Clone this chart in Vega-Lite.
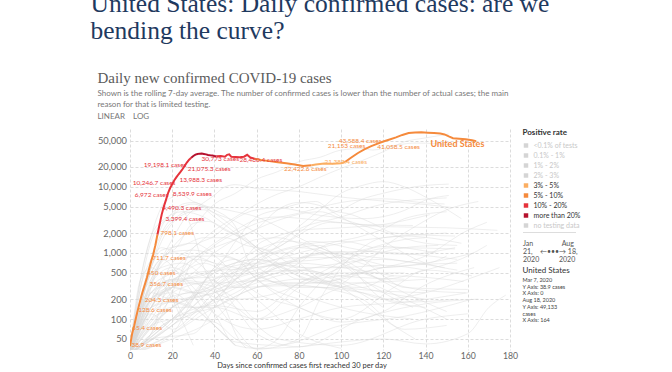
{
"$schema": "https://vega.github.io/schema/vega-lite/v6.json",
"background": "white",
"padding": {"left": 90, "top": -8, "right": 5, "bottom": 0},
"title": {"text": ["United States: Daily confirmed cases: are we", "bending the curve?"], "anchor": "start", "frame": "group", "dx": -39.5, "font": "Liberation Serif", "fontSize": 25.5, "fontWeight": "normal", "color": "#1f3a5f", "lineHeight": 27, "offset": 26},
"bounds": "flush",
"spacing": 12.5,
"resolve": {"scale": {"color": "independent"}, "legend": {"color": "independent"}},
"datasets": {
"rates": [{"rate": "<0.1% of tests"}, {"rate": "0.1% - 1%"}, {"rate": "1% - 2%"}, {"rate": "2% - 3%"}, {"rate": "3% - 5%"}, {"rate": "5% - 10%"}, {"rate": "10% - 20%"}, {"rate": "more than 20%"}, {"rate": "no testing data"}],
"us": [
{"day":0,"cases":38.9,"rate":"5% - 10%","seg":1},{"day":1,"cases":60,"rate":"5% - 10%","seg":1},{"day":2,"cases":80,"rate":"5% - 10%","seg":1},{"day":3,"cases":110,"rate":"5% - 10%","seg":1},{"day":4,"cases":150,"rate":"5% - 10%","seg":1},{"day":5,"cases":200,"rate":"5% - 10%","seg":1},{"day":6,"cases":260,"rate":"5% - 10%","seg":1},{"day":7,"cases":330,"rate":"5% - 10%","seg":1},{"day":8,"cases":420,"rate":"5% - 10%","seg":1},{"day":9,"cases":560,"rate":"5% - 10%","seg":1},{"day":10,"cases":740,"rate":"5% - 10%","seg":1},{"day":11,"cases":950,"rate":"5% - 10%","seg":1},{"day":12,"cases":1300,"rate":"5% - 10%","seg":1},{"day":13,"cases":1900,"rate":"5% - 10%","seg":1},
{"day":13,"cases":1900,"rate":"10% - 20%","seg":2},{"day":14,"cases":2700,"rate":"10% - 20%","seg":2},{"day":15,"cases":3800,"rate":"10% - 20%","seg":2},{"day":16,"cases":5000,"rate":"10% - 20%","seg":2},{"day":17,"cases":6300,"rate":"10% - 20%","seg":2},{"day":18,"cases":8000,"rate":"10% - 20%","seg":2},{"day":19,"cases":9600,"rate":"10% - 20%","seg":2},{"day":20,"cases":11000,"rate":"10% - 20%","seg":2},{"day":21,"cases":12600,"rate":"10% - 20%","seg":2},{"day":22,"cases":14000,"rate":"10% - 20%","seg":2},{"day":23,"cases":15500,"rate":"10% - 20%","seg":2},{"day":24,"cases":17000,"rate":"10% - 20%","seg":2},{"day":25,"cases":18800,"rate":"10% - 20%","seg":2},{"day":26,"cases":21000,"rate":"10% - 20%","seg":2},{"day":27,"cases":23500,"rate":"10% - 20%","seg":2},{"day":28,"cases":25800,"rate":"10% - 20%","seg":2},{"day":29,"cases":27500,"rate":"10% - 20%","seg":2},
{"day":29,"cases":27500,"rate":"more than 20%","seg":3},{"day":30,"cases":29300,"rate":"more than 20%","seg":3},{"day":31,"cases":30700,"rate":"more than 20%","seg":3},{"day":32,"cases":31400,"rate":"more than 20%","seg":3},{"day":33,"cases":31800,"rate":"more than 20%","seg":3},{"day":34,"cases":31900,"rate":"more than 20%","seg":3},{"day":35,"cases":31500,"rate":"more than 20%","seg":3},{"day":36,"cases":31000,"rate":"more than 20%","seg":3},{"day":37,"cases":30400,"rate":"more than 20%","seg":3},{"day":38,"cases":30000,"rate":"more than 20%","seg":3},{"day":39,"cases":29700,"rate":"more than 20%","seg":3},{"day":40,"cases":29300,"rate":"more than 20%","seg":3},{"day":41,"cases":29000,"rate":"more than 20%","seg":3},
{"day":41,"cases":29000,"rate":"10% - 20%","seg":4},{"day":43,"cases":29200,"rate":"10% - 20%","seg":4},{"day":45,"cases":28600,"rate":"10% - 20%","seg":4},{"day":46,"cases":30500,"rate":"10% - 20%","seg":4},{"day":47,"cases":31000,"rate":"10% - 20%","seg":4},{"day":48,"cases":28400,"rate":"10% - 20%","seg":4},{"day":50,"cases":28300,"rate":"10% - 20%","seg":4},{"day":52,"cases":28000,"rate":"10% - 20%","seg":4},{"day":54,"cases":28600,"rate":"10% - 20%","seg":4},{"day":55.5,"cases":30500,"rate":"10% - 20%","seg":4},{"day":57,"cases":27800,"rate":"10% - 20%","seg":4},{"day":59,"cases":26700,"rate":"10% - 20%","seg":4},
{"day":59,"cases":26700,"rate":"5% - 10%","seg":5},{"day":62,"cases":25500,"rate":"5% - 10%","seg":5},{"day":66,"cases":24500,"rate":"5% - 10%","seg":5},{"day":70,"cases":23500,"rate":"5% - 10%","seg":5},{"day":74,"cases":22700,"rate":"5% - 10%","seg":5},{"day":78,"cases":21800,"rate":"5% - 10%","seg":5},{"day":82,"cases":20700,"rate":"5% - 10%","seg":5},{"day":86,"cases":21200,"rate":"5% - 10%","seg":5},
{"day":86,"cases":21200,"rate":"3% - 5%","seg":6},{"day":88,"cases":21800,"rate":"3% - 5%","seg":6},{"day":92,"cases":22500,"rate":"3% - 5%","seg":6},{"day":96,"cases":22400,"rate":"3% - 5%","seg":6},{"day":100,"cases":22800,"rate":"3% - 5%","seg":6},{"day":102,"cases":24000,"rate":"3% - 5%","seg":6},
{"day":102,"cases":24000,"rate":"5% - 10%","seg":7},{"day":105,"cases":28000,"rate":"5% - 10%","seg":7},{"day":108,"cases":32500,"rate":"5% - 10%","seg":7},{"day":111,"cases":37000,"rate":"5% - 10%","seg":7},{"day":114,"cases":41000,"rate":"5% - 10%","seg":7},{"day":117,"cases":44600,"rate":"5% - 10%","seg":7},{"day":120,"cases":48500,"rate":"5% - 10%","seg":7},{"day":123,"cases":52000,"rate":"5% - 10%","seg":7},{"day":126,"cases":56000,"rate":"5% - 10%","seg":7},{"day":129,"cases":61000,"rate":"5% - 10%","seg":7},{"day":132,"cases":65000,"rate":"5% - 10%","seg":7},{"day":135,"cases":66500,"rate":"5% - 10%","seg":7},{"day":138,"cases":67000,"rate":"5% - 10%","seg":7},{"day":141,"cases":66000,"rate":"5% - 10%","seg":7},{"day":144,"cases":65000,"rate":"5% - 10%","seg":7},{"day":147,"cases":64000,"rate":"5% - 10%","seg":7},{"day":149,"cases":62000,"rate":"5% - 10%","seg":7},{"day":151,"cases":58000,"rate":"5% - 10%","seg":7},{"day":153,"cases":54500,"rate":"5% - 10%","seg":7},{"day":156,"cases":53500,"rate":"5% - 10%","seg":7},{"day":159,"cases":52500,"rate":"5% - 10%","seg":7},{"day":162,"cases":50500,"rate":"5% - 10%","seg":7},{"day":164,"cases":49133,"rate":"5% - 10%","seg":7}
],
"labels": [
{"day":0.7,"cases":40.5,"label":"38.9 cases","rate":"5% - 10%"},
{"day":1.0,"cases":72.4,"label":"65.4 cases","rate":"5% - 10%"},
{"day":3.9,"cases":136.8,"label":"128.6 cases","rate":"5% - 10%"},
{"day":7.0,"cases":193.6,"label":"204.3 cases","rate":"5% - 10%"},
{"day":9.2,"cases":338,"label":"356.7 cases","rate":"5% - 10%"},
{"day":8.1,"cases":500,"label":"450 cases","rate":"5% - 10%"},
{"day":10.5,"cases":843,"label":"711.7 cases","rate":"5% - 10%"},
{"day":14.4,"cases":1970,"label":"798.1 cases","rate":"5% - 10%"},
{"day":16.8,"cases":3206,"label":"3,399.4 cases","rate":"10% - 20%"},
{"day":15.3,"cases":4866,"label":"4,490.3 cases","rate":"10% - 20%"},
{"day":2.3,"cases":7470,"label":"6,972 cases","rate":"10% - 20%"},
{"day":20.3,"cases":7730,"label":"8,539.9 cases","rate":"10% - 20%"},
{"day":1.3,"cases":11610,"label":"10,246.7 cases","rate":"10% - 20%"},
{"day":23.4,"cases":12580,"label":"13,988.3 cases","rate":"10% - 20%"},
{"day":6.5,"cases":21190,"label":"19,198.1 cases","rate":"10% - 20%"},
{"day":27.4,"cases":18890,"label":"21,075.3 cases","rate":"10% - 20%"},
{"day":33.9,"cases":26120,"label":"30,773 cases","rate":"10% - 20%"},
{"day":51.9,"cases":25220,"label":"28,480.4 cases","rate":"10% - 20%"},
{"day":72.9,"cases":18890,"label":"22,422.6 cases","rate":"5% - 10%"},
{"day":98.9,"cases":50000,"label":"43,588.4 cases","rate":"5% - 10%"},
{"day":93.7,"cases":41060,"label":"21,153 cases","rate":"5% - 10%"},
{"day":92.1,"cases":23770,"label":"21,382.4 cases","rate":"3% - 5%"},
{"day":117.1,"cases":39630,"label":"41,058.5 cases","rate":"5% - 10%"}
],
"name": [{"day":142.3,"cases":45080,"label":"United States","rate":"5% - 10%"}],
"others": [
{"c":"CHN","d":0,"v":30},{"c":"CHN","d":5,"v":300},{"c":"CHN","d":10,"v":1500},{"c":"CHN","d":15,"v":2800},{"c":"CHN","d":20,"v":3500},{"c":"CHN","d":23,"v":5000},{"c":"CHN","d":26,"v":4000},{"c":"CHN","d":30,"v":2000},{"c":"CHN","d":35,"v":600},{"c":"CHN","d":40,"v":300},{"c":"CHN","d":45,"v":150},{"c":"CHN","d":50,"v":60},{"c":"CHN","d":55,"v":36},
{"c":"KOR","d":0,"v":30},{"c":"KOR","d":5,"v":400},{"c":"KOR","d":10,"v":600},{"c":"KOR","d":15,"v":450},{"c":"KOR","d":20,"v":250},{"c":"KOR","d":25,"v":120},{"c":"KOR","d":30,"v":100},{"c":"KOR","d":40,"v":90},{"c":"KOR","d":50,"v":50},{"c":"KOR","d":60,"v":36},{"c":"KOR","d":80,"v":38},{"c":"KOR","d":100,"v":45},{"c":"KOR","d":120,"v":50},{"c":"KOR","d":140,"v":42},{"c":"KOR","d":160,"v":60},{"c":"KOR","d":170,"v":150},{"c":"KOR","d":178,"v":230},
{"c":"ITA","d":0,"v":30},{"c":"ITA","d":5,"v":200},{"c":"ITA","d":10,"v":800},{"c":"ITA","d":15,"v":2000},{"c":"ITA","d":20,"v":3500},{"c":"ITA","d":25,"v":5000},{"c":"ITA","d":30,"v":5500},{"c":"ITA","d":40,"v":4000},{"c":"ITA","d":50,"v":3000},{"c":"ITA","d":60,"v":2000},{"c":"ITA","d":70,"v":1200},{"c":"ITA","d":80,"v":700},{"c":"ITA","d":90,"v":400},{"c":"ITA","d":110,"v":250},{"c":"ITA","d":120,"v":200},{"c":"ITA","d":140,"v":250},{"c":"ITA","d":160,"v":400},{"c":"ITA","d":175,"v":600},
{"c":"ESP","d":0,"v":40},{"c":"ESP","d":5,"v":400},{"c":"ESP","d":10,"v":1800},{"c":"ESP","d":15,"v":5000},{"c":"ESP","d":20,"v":7000},{"c":"ESP","d":23,"v":7800},{"c":"ESP","d":30,"v":6000},{"c":"ESP","d":40,"v":4500},{"c":"ESP","d":50,"v":2500},{"c":"ESP","d":55,"v":900},{"c":"ESP","d":60,"v":500},{"c":"ESP","d":80,"v":300},{"c":"ESP","d":95,"v":300},{"c":"ESP","d":110,"v":600},{"c":"ESP","d":120,"v":1200},{"c":"ESP","d":135,"v":2500},{"c":"ESP","d":150,"v":4500},{"c":"ESP","d":165,"v":6000},
{"c":"IRN","d":0,"v":30},{"c":"IRN","d":5,"v":300},{"c":"IRN","d":10,"v":800},{"c":"IRN","d":15,"v":1200},{"c":"IRN","d":20,"v":1100},{"c":"IRN","d":30,"v":2800},{"c":"IRN","d":37,"v":3000},{"c":"IRN","d":45,"v":2300},{"c":"IRN","d":55,"v":1500},{"c":"IRN","d":65,"v":1100},{"c":"IRN","d":75,"v":1500},{"c":"IRN","d":85,"v":2300},{"c":"IRN","d":95,"v":2900},{"c":"IRN","d":120,"v":2500},{"c":"IRN","d":150,"v":2400},{"c":"IRN","d":174,"v":2200},
{"c":"DEU","d":0,"v":30},{"c":"DEU","d":5,"v":150},{"c":"DEU","d":10,"v":800},{"c":"DEU","d":15,"v":2500},{"c":"DEU","d":20,"v":4000},{"c":"DEU","d":25,"v":5500},{"c":"DEU","d":30,"v":5800},{"c":"DEU","d":40,"v":4000},{"c":"DEU","d":50,"v":2300},{"c":"DEU","d":60,"v":1200},{"c":"DEU","d":70,"v":700},{"c":"DEU","d":90,"v":350},{"c":"DEU","d":110,"v":500},{"c":"DEU","d":120,"v":400},{"c":"DEU","d":140,"v":550},{"c":"DEU","d":160,"v":900},{"c":"DEU","d":169,"v":1300},
{"c":"FRA","d":0,"v":30},{"c":"FRA","d":5,"v":200},{"c":"FRA","d":10,"v":600},{"c":"FRA","d":15,"v":1500},{"c":"FRA","d":20,"v":2800},{"c":"FRA","d":30,"v":4300},{"c":"FRA","d":35,"v":4500},{"c":"FRA","d":40,"v":3500},{"c":"FRA","d":50,"v":2000},{"c":"FRA","d":60,"v":1100},{"c":"FRA","d":70,"v":600},{"c":"FRA","d":80,"v":400},{"c":"FRA","d":100,"v":450},{"c":"FRA","d":120,"v":600},{"c":"FRA","d":140,"v":900},{"c":"FRA","d":160,"v":2200},{"c":"FRA","d":169,"v":2900},
{"c":"GBR","d":0,"v":30},{"c":"GBR","d":5,"v":150},{"c":"GBR","d":10,"v":600},{"c":"GBR","d":15,"v":1800},{"c":"GBR","d":20,"v":3000},{"c":"GBR","d":30,"v":4700},{"c":"GBR","d":35,"v":5000},{"c":"GBR","d":50,"v":4200},{"c":"GBR","d":60,"v":3500},{"c":"GBR","d":70,"v":2500},{"c":"GBR","d":80,"v":1700},{"c":"GBR","d":90,"v":1200},{"c":"GBR","d":100,"v":900},{"c":"GBR","d":120,"v":600},{"c":"GBR","d":140,"v":700},{"c":"GBR","d":163,"v":1000},
{"c":"CAN","d":0,"v":30},{"c":"CAN","d":5,"v":150},{"c":"CAN","d":10,"v":600},{"c":"CAN","d":15,"v":1100},{"c":"CAN","d":25,"v":1300},{"c":"CAN","d":35,"v":1700},{"c":"CAN","d":45,"v":1700},{"c":"CAN","d":55,"v":1300},{"c":"CAN","d":65,"v":1100},{"c":"CAN","d":75,"v":700},{"c":"CAN","d":85,"v":450},{"c":"CAN","d":95,"v":330},{"c":"CAN","d":110,"v":300},{"c":"CAN","d":125,"v":450},{"c":"CAN","d":158,"v":370},
{"c":"TUR","d":0,"v":30},{"c":"TUR","d":5,"v":400},{"c":"TUR","d":10,"v":1800},{"c":"TUR","d":15,"v":3000},{"c":"TUR","d":25,"v":4200},{"c":"TUR","d":35,"v":3500},{"c":"TUR","d":45,"v":2200},{"c":"TUR","d":55,"v":1600},{"c":"TUR","d":65,"v":1000},{"c":"TUR","d":75,"v":1000},{"c":"TUR","d":85,"v":1500},{"c":"TUR","d":110,"v":1100},{"c":"TUR","d":130,"v":950},{"c":"TUR","d":154,"v":1200},
{"c":"RUS","d":0,"v":30},{"c":"RUS","d":5,"v":90},{"c":"RUS","d":10,"v":300},{"c":"RUS","d":15,"v":800},{"c":"RUS","d":20,"v":1600},{"c":"RUS","d":25,"v":3000},{"c":"RUS","d":30,"v":4500},{"c":"RUS","d":35,"v":5800},{"c":"RUS","d":40,"v":7500},{"c":"RUS","d":45,"v":10000},{"c":"RUS","d":50,"v":10800},{"c":"RUS","d":60,"v":9400},{"c":"RUS","d":80,"v":8500},{"c":"RUS","d":100,"v":7000},{"c":"RUS","d":120,"v":6100},{"c":"RUS","d":140,"v":5400},{"c":"RUS","d":152,"v":4900},
{"c":"BRA","d":0,"v":30},{"c":"BRA","d":5,"v":200},{"c":"BRA","d":10,"v":400},{"c":"BRA","d":20,"v":1200},{"c":"BRA","d":30,"v":2500},{"c":"BRA","d":40,"v":5500},{"c":"BRA","d":50,"v":8000},{"c":"BRA","d":60,"v":13000},{"c":"BRA","d":70,"v":17000},{"c":"BRA","d":80,"v":24000},{"c":"BRA","d":90,"v":28000},{"c":"BRA","d":100,"v":36000},{"c":"BRA","d":110,"v":38000},{"c":"BRA","d":115,"v":36000},{"c":"BRA","d":125,"v":42000},{"c":"BRA","d":135,"v":46000},{"c":"BRA","d":145,"v":45000},{"c":"BRA","d":154,"v":43000},
{"c":"IND","d":0,"v":30},{"c":"IND","d":10,"v":150},{"c":"IND","d":20,"v":700},{"c":"IND","d":30,"v":1200},{"c":"IND","d":40,"v":2200},{"c":"IND","d":50,"v":3500},{"c":"IND","d":60,"v":5500},{"c":"IND","d":70,"v":7800},{"c":"IND","d":80,"v":10000},{"c":"IND","d":90,"v":14000},{"c":"IND","d":100,"v":19000},{"c":"IND","d":110,"v":25000},{"c":"IND","d":120,"v":34000},{"c":"IND","d":130,"v":48000},{"c":"IND","d":140,"v":55000},{"c":"IND","d":151,"v":63000},
{"c":"PER","d":0,"v":30},{"c":"PER","d":10,"v":60},{"c":"PER","d":20,"v":250},{"c":"PER","d":30,"v":1200},{"c":"PER","d":40,"v":1800},{"c":"PER","d":50,"v":3300},{"c":"PER","d":60,"v":4500},{"c":"PER","d":70,"v":4800},{"c":"PER","d":90,"v":3700},{"c":"PER","d":110,"v":3300},{"c":"PER","d":130,"v":4400},{"c":"PER","d":140,"v":6300},{"c":"PER","d":151,"v":7400},
{"c":"MEX","d":0,"v":30},{"c":"MEX","d":10,"v":150},{"c":"MEX","d":20,"v":350},{"c":"MEX","d":30,"v":700},{"c":"MEX","d":40,"v":1300},{"c":"MEX","d":50,"v":2000},{"c":"MEX","d":60,"v":2800},{"c":"MEX","d":80,"v":4000},{"c":"MEX","d":100,"v":5800},{"c":"MEX","d":120,"v":6600},{"c":"MEX","d":140,"v":5700},{"c":"MEX","d":149,"v":5500},
{"c":"CHL","d":0,"v":30},{"c":"CHL","d":10,"v":250},{"c":"CHL","d":20,"v":350},{"c":"CHL","d":40,"v":550},{"c":"CHL","d":50,"v":1500},{"c":"CHL","d":60,"v":3500},{"c":"CHL","d":70,"v":4500},{"c":"CHL","d":88,"v":6000},{"c":"CHL","d":95,"v":4500},{"c":"CHL","d":105,"v":3800},{"c":"CHL","d":115,"v":2800},{"c":"CHL","d":125,"v":2000},{"c":"CHL","d":154,"v":1800},
{"c":"COL","d":0,"v":30},{"c":"COL","d":10,"v":80},{"c":"COL","d":20,"v":200},{"c":"COL","d":40,"v":330},{"c":"COL","d":50,"v":550},{"c":"COL","d":60,"v":900},{"c":"COL","d":70,"v":1200},{"c":"COL","d":80,"v":2000},{"c":"COL","d":90,"v":3500},{"c":"COL","d":100,"v":4500},{"c":"COL","d":110,"v":6500},{"c":"COL","d":120,"v":8000},{"c":"COL","d":140,"v":10500},{"c":"COL","d":151,"v":11000},
{"c":"ZAF","d":0,"v":30},{"c":"ZAF","d":10,"v":120},{"c":"ZAF","d":20,"v":70},{"c":"ZAF","d":30,"v":120},{"c":"ZAF","d":40,"v":250},{"c":"ZAF","d":50,"v":400},{"c":"ZAF","d":60,"v":700},{"c":"ZAF","d":70,"v":1300},{"c":"ZAF","d":80,"v":2500},{"c":"ZAF","d":90,"v":4500},{"c":"ZAF","d":100,"v":8000},{"c":"ZAF","d":110,"v":10500},{"c":"ZAF","d":120,"v":12000},{"c":"ZAF","d":130,"v":10000},{"c":"ZAF","d":140,"v":7000},{"c":"ZAF","d":157,"v":3300},
{"c":"SAU","d":0,"v":30},{"c":"SAU","d":10,"v":100},{"c":"SAU","d":20,"v":150},{"c":"SAU","d":30,"v":800},{"c":"SAU","d":40,"v":1200},{"c":"SAU","d":50,"v":1600},{"c":"SAU","d":60,"v":2300},{"c":"SAU","d":70,"v":3100},{"c":"SAU","d":90,"v":4200},{"c":"SAU","d":100,"v":3300},{"c":"SAU","d":120,"v":2100},{"c":"SAU","d":140,"v":1400},{"c":"SAU","d":155,"v":1300},
{"c":"PAK","d":0,"v":30},{"c":"PAK","d":10,"v":200},{"c":"PAK","d":20,"v":300},{"c":"PAK","d":30,"v":500},{"c":"PAK","d":40,"v":1000},{"c":"PAK","d":50,"v":1600},{"c":"PAK","d":60,"v":2300},{"c":"PAK","d":70,"v":4500},{"c":"PAK","d":80,"v":5800},{"c":"PAK","d":90,"v":5200},{"c":"PAK","d":100,"v":3500},{"c":"PAK","d":110,"v":2300},{"c":"PAK","d":120,"v":1500},{"c":"PAK","d":140,"v":700},{"c":"PAK","d":155,"v":550},
{"c":"BGD","d":0,"v":30},{"c":"BGD","d":10,"v":300},{"c":"BGD","d":20,"v":500},{"c":"BGD","d":30,"v":800},{"c":"BGD","d":40,"v":1400},{"c":"BGD","d":50,"v":2200},{"c":"BGD","d":60,"v":3200},{"c":"BGD","d":70,"v":3500},{"c":"BGD","d":90,"v":3100},{"c":"BGD","d":110,"v":2700},{"c":"BGD","d":134,"v":2600},
{"c":"ARG","d":0,"v":30},{"c":"ARG","d":10,"v":80},{"c":"ARG","d":30,"v":120},{"c":"ARG","d":40,"v":200},{"c":"ARG","d":50,"v":400},{"c":"ARG","d":60,"v":900},{"c":"ARG","d":70,"v":1500},{"c":"ARG","d":80,"v":2300},{"c":"ARG","d":100,"v":3500},{"c":"ARG","d":120,"v":5500},{"c":"ARG","d":150,"v":6800},
{"c":"QAT","d":0,"v":30},{"c":"QAT","d":20,"v":60},{"c":"QAT","d":30,"v":200},{"c":"QAT","d":40,"v":600},{"c":"QAT","d":50,"v":1100},{"c":"QAT","d":60,"v":1600},{"c":"QAT","d":70,"v":1700},{"c":"QAT","d":80,"v":1400},{"c":"QAT","d":90,"v":1000},{"c":"QAT","d":110,"v":500},{"c":"QAT","d":140,"v":270},{"c":"QAT","d":159,"v":250},
{"c":"BEL","d":0,"v":30},{"c":"BEL","d":10,"v":350},{"c":"BEL","d":20,"v":1200},{"c":"BEL","d":30,"v":1400},{"c":"BEL","d":40,"v":1000},{"c":"BEL","d":50,"v":800},{"c":"BEL","d":60,"v":400},{"c":"BEL","d":80,"v":150},{"c":"BEL","d":100,"v":100},{"c":"BEL","d":125,"v":300},{"c":"BEL","d":140,"v":550},{"c":"BEL","d":162,"v":450},
{"c":"NLD","d":0,"v":30},{"c":"NLD","d":10,"v":400},{"c":"NLD","d":20,"v":1050},{"c":"NLD","d":30,"v":1100},{"c":"NLD","d":40,"v":900},{"c":"NLD","d":50,"v":450},{"c":"NLD","d":60,"v":250},{"c":"NLD","d":80,"v":150},{"c":"NLD","d":100,"v":90},{"c":"NLD","d":120,"v":130},{"c":"NLD","d":140,"v":330},{"c":"NLD","d":163,"v":600},
{"c":"SWE","d":0,"v":30},{"c":"SWE","d":15,"v":300},{"c":"SWE","d":30,"v":500},{"c":"SWE","d":60,"v":600},{"c":"SWE","d":75,"v":700},{"c":"SWE","d":90,"v":1000},{"c":"SWE","d":100,"v":1050},{"c":"SWE","d":110,"v":800},{"c":"SWE","d":120,"v":450},{"c":"SWE","d":130,"v":300},{"c":"SWE","d":160,"v":280},
{"c":"ISR","d":0,"v":30},{"c":"ISR","d":10,"v":350},{"c":"ISR","d":20,"v":600},{"c":"ISR","d":30,"v":400},{"c":"ISR","d":40,"v":180},{"c":"ISR","d":50,"v":70},{"c":"ISR","d":60,"v":35},{"c":"ISR","d":80,"v":50},{"c":"ISR","d":90,"v":200},{"c":"ISR","d":100,"v":600},{"c":"ISR","d":110,"v":1200},{"c":"ISR","d":120,"v":1700},{"c":"ISR","d":130,"v":1800},{"c":"ISR","d":157,"v":1400},
{"c":"PHL","d":0,"v":30},{"c":"PHL","d":10,"v":250},{"c":"PHL","d":20,"v":200},{"c":"PHL","d":40,"v":250},{"c":"PHL","d":60,"v":400},{"c":"PHL","d":80,"v":700},{"c":"PHL","d":90,"v":1200},{"c":"PHL","d":110,"v":1800},{"c":"PHL","d":120,"v":2300},{"c":"PHL","d":130,"v":3300},{"c":"PHL","d":150,"v":4200},
{"c":"IDN","d":0,"v":30},{"c":"IDN","d":10,"v":100},{"c":"IDN","d":20,"v":250},{"c":"IDN","d":40,"v":400},{"c":"IDN","d":60,"v":650},{"c":"IDN","d":80,"v":1000},{"c":"IDN","d":100,"v":1400},{"c":"IDN","d":120,"v":1700},{"c":"IDN","d":150,"v":2000},
{"c":"EGY","d":0,"v":30},{"c":"EGY","d":10,"v":80},{"c":"EGY","d":20,"v":150},{"c":"EGY","d":30,"v":220},{"c":"EGY","d":40,"v":350},{"c":"EGY","d":50,"v":700},{"c":"EGY","d":60,"v":1100},{"c":"EGY","d":75,"v":1500},{"c":"EGY","d":90,"v":1200},{"c":"EGY","d":110,"v":550},{"c":"EGY","d":130,"v":250},{"c":"EGY","d":150,"v":130},
{"c":"IRQ","d":0,"v":30},{"c":"IRQ","d":10,"v":50},{"c":"IRQ","d":30,"v":60},{"c":"IRQ","d":40,"v":150},{"c":"IRQ","d":50,"v":500},{"c":"IRQ","d":60,"v":1300},{"c":"IRQ","d":70,"v":1800},{"c":"IRQ","d":80,"v":2200},{"c":"IRQ","d":100,"v":2400},{"c":"IRQ","d":120,"v":2700},{"c":"IRQ","d":142,"v":3800},
{"c":"ECU","d":0,"v":30},{"c":"ECU","d":10,"v":200},{"c":"ECU","d":20,"v":300},{"c":"ECU","d":30,"v":800},{"c":"ECU","d":40,"v":700},{"c":"ECU","d":50,"v":300},{"c":"ECU","d":70,"v":450},{"c":"ECU","d":100,"v":700},{"c":"ECU","d":120,"v":800},{"c":"ECU","d":140,"v":700},{"c":"ECU","d":150,"v":900},
{"c":"UKR","d":0,"v":30},{"c":"UKR","d":10,"v":250},{"c":"UKR","d":20,"v":400},{"c":"UKR","d":50,"v":450},{"c":"UKR","d":70,"v":700},{"c":"UKR","d":90,"v":800},{"c":"UKR","d":110,"v":1100},{"c":"UKR","d":130,"v":1600},{"c":"UKR","d":140,"v":1700},
{"c":"JPN","d":0,"v":30},{"c":"JPN","d":10,"v":200},{"c":"JPN","d":20,"v":550},{"c":"JPN","d":30,"v":300},{"c":"JPN","d":40,"v":120},{"c":"JPN","d":50,"v":40},{"c":"JPN","d":60,"v":36},{"c":"JPN","d":70,"v":50},{"c":"JPN","d":80,"v":150},{"c":"JPN","d":90,"v":350},{"c":"JPN","d":100,"v":650},{"c":"JPN","d":120,"v":1250},{"c":"JPN","d":145,"v":1000},
{"c":"AUS","d":0,"v":30},{"c":"AUS","d":8,"v":250},{"c":"AUS","d":14,"v":350},{"c":"AUS","d":20,"v":200},{"c":"AUS","d":25,"v":90},{"c":"AUS","d":30,"v":40},
{"c":"CHE","d":0,"v":30},{"c":"CHE","d":10,"v":500},{"c":"CHE","d":20,"v":1000},{"c":"CHE","d":30,"v":800},{"c":"CHE","d":40,"v":400},{"c":"CHE","d":50,"v":150},{"c":"CHE","d":60,"v":60},{"c":"CHE","d":80,"v":38},{"c":"CHE","d":110,"v":100},{"c":"CHE","d":140,"v":170},{"c":"CHE","d":165,"v":200},
{"c":"PRT","d":0,"v":30},{"c":"PRT","d":10,"v":500},{"c":"PRT","d":25,"v":700},{"c":"PRT","d":35,"v":450},{"c":"PRT","d":50,"v":300},{"c":"PRT","d":75,"v":320},{"c":"PRT","d":110,"v":250},{"c":"PRT","d":130,"v":180},{"c":"PRT","d":155,"v":200},
{"c":"AUT","d":0,"v":30},{"c":"AUT","d":10,"v":500},{"c":"AUT","d":15,"v":800},{"c":"AUT","d":25,"v":400},{"c":"AUT","d":40,"v":80},{"c":"AUT","d":50,"v":45},{"c":"AUT","d":70,"v":40},{"c":"AUT","d":100,"v":80},{"c":"AUT","d":130,"v":110},{"c":"AUT","d":162,"v":200},
{"c":"POL","d":0,"v":30},{"c":"POL","d":10,"v":200},{"c":"POL","d":20,"v":400},{"c":"POL","d":40,"v":350},{"c":"POL","d":60,"v":380},{"c":"POL","d":80,"v":350},{"c":"POL","d":100,"v":400},{"c":"POL","d":120,"v":600},{"c":"POL","d":155,"v":700},
{"c":"ROU","d":0,"v":30},{"c":"ROU","d":10,"v":250},{"c":"ROU","d":20,"v":380},{"c":"ROU","d":30,"v":350},{"c":"ROU","d":50,"v":200},{"c":"ROU","d":70,"v":250},{"c":"ROU","d":90,"v":500},{"c":"ROU","d":110,"v":1000},{"c":"ROU","d":125,"v":1200},{"c":"ROU","d":154,"v":1150},
{"c":"DOM","d":0,"v":30},{"c":"DOM","d":10,"v":150},{"c":"DOM","d":20,"v":300},{"c":"DOM","d":30,"v":250},{"c":"DOM","d":50,"v":350},{"c":"DOM","d":70,"v":600},{"c":"DOM","d":90,"v":1000},{"c":"DOM","d":110,"v":900},{"c":"DOM","d":149,"v":600},
{"c":"PAN","d":0,"v":30},{"c":"PAN","d":10,"v":120},{"c":"PAN","d":20,"v":180},{"c":"PAN","d":30,"v":150},{"c":"PAN","d":50,"v":250},{"c":"PAN","d":70,"v":650},{"c":"PAN","d":90,"v":950},{"c":"PAN","d":110,"v":1050},{"c":"PAN","d":155,"v":800},
{"c":"GTM","d":0,"v":30},{"c":"GTM","d":20,"v":100},{"c":"GTM","d":40,"v":400},{"c":"GTM","d":60,"v":700},{"c":"GTM","d":80,"v":850},{"c":"GTM","d":100,"v":850},{"c":"GTM","d":120,"v":650},
{"c":"HND","d":0,"v":30},{"c":"HND","d":20,"v":80},{"c":"HND","d":40,"v":300},{"c":"HND","d":60,"v":600},{"c":"HND","d":80,"v":700},{"c":"HND","d":100,"v":600},{"c":"HND","d":125,"v":450},
{"c":"KAZ","d":0,"v":30},{"c":"KAZ","d":20,"v":150},{"c":"KAZ","d":40,"v":250},{"c":"KAZ","d":60,"v":450},{"c":"KAZ","d":80,"v":1200},{"c":"KAZ","d":90,"v":1300},{"c":"KAZ","d":100,"v":700},{"c":"KAZ","d":120,"v":250},{"c":"KAZ","d":134,"v":150},
{"c":"BLR","d":0,"v":30},{"c":"BLR","d":10,"v":350},{"c":"BLR","d":20,"v":800},{"c":"BLR","d":40,"v":900},{"c":"BLR","d":60,"v":600},{"c":"BLR","d":80,"v":250},{"c":"BLR","d":100,"v":150},{"c":"BLR","d":134,"v":100},
{"c":"SGP","d":0,"v":30},{"c":"SGP","d":10,"v":60},{"c":"SGP","d":20,"v":500},{"c":"SGP","d":30,"v":900},{"c":"SGP","d":40,"v":700},{"c":"SGP","d":50,"v":600},{"c":"SGP","d":70,"v":350},{"c":"SGP","d":90,"v":300},{"c":"SGP","d":110,"v":200},{"c":"SGP","d":130,"v":70},{"c":"SGP","d":150,"v":80},
{"c":"KWT","d":0,"v":30},{"c":"KWT","d":20,"v":90},{"c":"KWT","d":40,"v":500},{"c":"KWT","d":60,"v":800},{"c":"KWT","d":80,"v":600},{"c":"KWT","d":100,"v":600},{"c":"KWT","d":120,"v":650},{"c":"KWT","d":140,"v":550},
{"c":"ARE","d":0,"v":30},{"c":"ARE","d":20,"v":300},{"c":"ARE","d":40,"v":550},{"c":"ARE","d":60,"v":800},{"c":"ARE","d":80,"v":450},{"c":"ARE","d":100,"v":300},{"c":"ARE","d":140,"v":250},
{"c":"NGA","d":0,"v":30},{"c":"NGA","d":20,"v":150},{"c":"NGA","d":40,"v":300},{"c":"NGA","d":60,"v":500},{"c":"NGA","d":80,"v":550},{"c":"NGA","d":100,"v":450},{"c":"NGA","d":130,"v":400},
{"c":"MAR","d":0,"v":30},{"c":"MAR","d":20,"v":150},{"c":"MAR","d":40,"v":150},{"c":"MAR","d":60,"v":100},{"c":"MAR","d":80,"v":300},{"c":"MAR","d":100,"v":600},{"c":"MAR","d":130,"v":1200},{"c":"MAR","d":146,"v":1300},
{"c":"DZA","d":0,"v":30},{"c":"DZA","d":20,"v":100},{"c":"DZA","d":40,"v":160},{"c":"DZA","d":60,"v":130},{"c":"DZA","d":80,"v":350},{"c":"DZA","d":100,"v":500},{"c":"DZA","d":130,"v":500},
{"c":"BOL","d":0,"v":30},{"c":"BOL","d":20,"v":80},{"c":"BOL","d":40,"v":300},{"c":"BOL","d":60,"v":800},{"c":"BOL","d":80,"v":1300},{"c":"BOL","d":100,"v":1500},{"c":"BOL","d":115,"v":1200},
{"c":"AFG","d":0,"v":30},{"c":"AFG","d":20,"v":100},{"c":"AFG","d":40,"v":500},{"c":"AFG","d":60,"v":700},{"c":"AFG","d":80,"v":500},{"c":"AFG","d":100,"v":300},{"c":"AFG","d":120,"v":100},{"c":"AFG","d":135,"v":50},
{"c":"DNK","d":0,"v":30},{"c":"DNK","d":10,"v":150},{"c":"DNK","d":30,"v":250},{"c":"DNK","d":50,"v":150},{"c":"DNK","d":70,"v":50},{"c":"DNK","d":100,"v":40},{"c":"DNK","d":140,"v":100},{"c":"DNK","d":160,"v":120},
{"c":"IRL","d":0,"v":30},{"c":"IRL","d":10,"v":150},{"c":"IRL","d":25,"v":500},{"c":"IRL","d":35,"v":700},{"c":"IRL","d":45,"v":500},{"c":"IRL","d":60,"v":200},{"c":"IRL","d":80,"v":60},{"c":"IRL","d":100,"v":36},
{"c":"CZE","d":0,"v":30},{"c":"CZE","d":10,"v":200},{"c":"CZE","d":20,"v":300},{"c":"CZE","d":30,"v":250},{"c":"CZE","d":40,"v":120},{"c":"CZE","d":60,"v":70},{"c":"CZE","d":80,"v":100},{"c":"CZE","d":100,"v":150},{"c":"CZE","d":130,"v":180},{"c":"CZE","d":160,"v":250},
{"c":"SRB","d":0,"v":30},{"c":"SRB","d":10,"v":150},{"c":"SRB","d":20,"v":300},{"c":"SRB","d":30,"v":350},{"c":"SRB","d":50,"v":200},{"c":"SRB","d":60,"v":100},{"c":"SRB","d":80,"v":150},{"c":"SRB","d":100,"v":300},{"c":"SRB","d":110,"v":350},{"c":"SRB","d":130,"v":200},{"c":"SRB","d":150,"v":100},
{"c":"ARM","d":0,"v":30},{"c":"ARM","d":20,"v":50},{"c":"ARM","d":40,"v":100},{"c":"ARM","d":60,"v":400},{"c":"ARM","d":75,"v":650},{"c":"ARM","d":90,"v":500},{"c":"ARM","d":110,"v":300},{"c":"ARM","d":140,"v":200},
{"c":"OMN","d":0,"v":30},{"c":"OMN","d":20,"v":60},{"c":"OMN","d":40,"v":200},{"c":"OMN","d":60,"v":700},{"c":"OMN","d":80,"v":1200},{"c":"OMN","d":100,"v":800},{"c":"OMN","d":120,"v":200},{"c":"OMN","d":140,"v":150},
{"c":"SLV","d":0,"v":30},{"c":"SLV","d":20,"v":60},{"c":"SLV","d":40,"v":150},{"c":"SLV","d":60,"v":300},{"c":"SLV","d":80,"v":400},{"c":"SLV","d":100,"v":350},
{"c":"KGZ","d":0,"v":30},{"c":"KGZ","d":20,"v":100},{"c":"KGZ","d":30,"v":200},{"c":"KGZ","d":40,"v":600},{"c":"KGZ","d":50,"v":800},{"c":"KGZ","d":60,"v":400},{"c":"KGZ","d":80,"v":200},
{"c":"AZE","d":0,"v":30},{"c":"AZE","d":20,"v":80},{"c":"AZE","d":40,"v":200},{"c":"AZE","d":60,"v":400},{"c":"AZE","d":80,"v":550},{"c":"AZE","d":100,"v":350},{"c":"AZE","d":120,"v":150},
{"c":"MDA","d":0,"v":30},{"c":"MDA","d":20,"v":100},{"c":"MDA","d":40,"v":150},{"c":"MDA","d":60,"v":300},{"c":"MDA","d":80,"v":350},{"c":"MDA","d":100,"v":350},{"c":"MDA","d":140,"v":400},
{"c":"NOR","d":0,"v":30},{"c":"NOR","d":5,"v":100},{"c":"NOR","d":10,"v":200},{"c":"NOR","d":20,"v":250},{"c":"NOR","d":30,"v":150},{"c":"NOR","d":40,"v":80},{"c":"NOR","d":50,"v":40},
{"c":"MYS","d":0,"v":30},{"c":"MYS","d":10,"v":150},{"c":"MYS","d":20,"v":180},{"c":"MYS","d":30,"v":150},{"c":"MYS","d":40,"v":80},{"c":"MYS","d":50,"v":40}
]
},
"hconcat": [
{
"width": 380,
"height": 221,
"title": {"text": "Daily new confirmed COVID-19 cases", "subtitle": ["Shown is the rolling 7-day average. The number of confirmed cases is lower than the number of actual cases; the main", "reason for that is limited testing.", "\u00a0LINEAR\u00a0\u00a0\u00a0\u00a0LOG"], "anchor": "start", "frame": "bounds", "font": "Liberation Serif", "fontSize": 15, "fontWeight": "normal", "color": "#5b5b5b", "subtitleFont": "Lato", "subtitleFontSize": 8, "subtitleColor": "#777", "subtitleLineHeight": 11.5, "subtitlePadding": 4, "offset": 8.5},
"layer": [
{
"data": {"name": "others"},
"mark": {"type": "line", "color": "#d8d8d8", "strokeWidth": 0.6, "opacity": 0.75, "clip": true, "interpolate": "monotone"},
"encoding": {
"x": {"field": "d", "type": "quantitative", "scale": {"domain": [0, 180], "nice": false}, "axis": {"values": [0, 20, 40, 60, 80, 100, 120, 140, 160, 180], "labelFlush": false, "title": "Days since confirmed cases first reached 30 per day", "titleFont": "Lato", "titleFontSize": 7.5, "titleFontWeight": "normal", "titleColor": "#333", "titlePadding": 2, "titleX": 171.5, "titleAlign": "center", "labelFont": "Lato", "labelFontSize": 8.7, "labelColor": "#666", "labelPadding": 1, "ticks": false, "domain": false, "gridColor": "#dcdcdc", "gridDash": [3, 2]}},
"y": {"field": "v", "type": "quantitative", "scale": {"type": "log", "domain": [34, 75000], "nice": false, "zero": false}, "axis": {"values": [50, 100, 200, 500, 1000, 2000, 5000, 10000, 20000, 50000], "format": ",", "title": null, "labelFlush": false, "labelFont": "Lato", "labelFontSize": 9.3, "labelColor": "#666", "labelPadding": 3.5, "ticks": false, "domain": false, "gridColor": "#dcdcdc", "gridDash": [3, 2]}},
"detail": {"field": "c"}
}
},
{
"data": {"name": "us"},
"mark": {"type": "line", "strokeWidth": 2, "clip": true},
"encoding": {
"x": {"field": "day", "type": "quantitative"},
"y": {"field": "cases", "type": "quantitative"},
"detail": {"field": "seg"},
"color": {"field": "rate", "type": "nominal", "scale": {"domain": ["<0.1% of tests", "0.1% - 1%", "1% - 2%", "2% - 3%", "3% - 5%", "5% - 10%", "10% - 20%", "more than 20%", "no testing data"], "range": ["#d5d5d5", "#d5d5d5", "#d5d5d5", "#d5d5d5", "#fbae62", "#f58a3c", "#e6333b", "#b5112d", "#d5d5d5"]}, "legend": null}
}
},
{
"data": {"name": "labels"},
"mark": {"type": "text", "align": "left", "baseline": "middle", "font": "Lato", "fontSize": 6.5},
"encoding": {
"x": {"field": "day", "type": "quantitative"},
"y": {"field": "cases", "type": "quantitative"},
"text": {"field": "label"},
"color": {"field": "rate", "type": "nominal", "legend": null}
}
},
{
"data": {"name": "name"},
"mark": {"type": "text", "align": "left", "baseline": "middle", "font": "Lato", "fontSize": 9, "fontWeight": "bold"},
"encoding": {
"x": {"field": "day", "type": "quantitative"},
"y": {"field": "cases", "type": "quantitative"},
"text": {"field": "label"},
"color": {"field": "rate", "type": "nominal", "legend": null}
}
}
]
},
{
"width": 53,
"height": 103,
"data": {"name": "rates"},
"title": {"text": "United States", "subtitle": ["Mar 7, 2020", "Y Axis: 38.9 cases", "X Axis: 0", "Aug 18, 2020", "Y Axis: 49,133", "cases", "X Axis: 164"], "orient": "bottom", "anchor": "start", "frame": "group", "font": "Lato", "fontSize": 8, "fontWeight": "normal", "color": "#333", "subtitleFont": "Lato", "subtitleFontSize": 5.5, "subtitleColor": "#444", "subtitleLineHeight": 6.7, "subtitlePadding": 3, "offset": 5},
"mark": {"type": "square", "opacity": 0},
"encoding": {
"x": {"field": "rate", "type": "nominal", "sort": null, "axis": {"domain": true, "domainColor": "#dddddd", "labels": false, "ticks": false, "grid": false, "title": ["Jan\u00a0\u00a0\u00a0\u00a0\u00a0\u00a0\u00a0\u00a0\u00a0\u00a0\u00a0\u00a0\u00a0\u00a0\u00a0\u00a0Aug", "21,\u00a0\u00a0\u00a0\u00a0←•••→\u00a018,", "2020\u00a0\u00a0\u00a0\u00a0\u00a0\u00a0\u00a0\u00a0\u00a0\u00a0\u00a02020"], "titleFont": "Lato", "titleFontSize": 7, "titleFontWeight": "normal", "titleColor": "#555", "titleLineHeight": 8, "titleAnchor": "start", "titleAlign": "left", "titlePadding": 7}},
"color": {"field": "rate", "type": "nominal", "sort": null, "scale": {"domain": ["<0.1% of tests", "0.1% - 1%", "1% - 2%", "2% - 3%", "3% - 5%", "5% - 10%", "10% - 20%", "more than 20%", "no testing data"], "range": ["#d5d5d5", "#d5d5d5", "#d5d5d5", "#d5d5d5", "#fbae62", "#f58a3c", "#e6333b", "#b5112d", "#d5d5d5"]}, "legend": {"title": "Positive rate", "orient": "top-left", "offset": 0, "padding": 0, "titleFont": "Lato", "titleFontSize": 8, "titleFontWeight": "bold", "titleColor": "#333", "titlePadding": 5, "labelFont": "Lato", "labelFontSize": 7, "labelColor": "#333", "labelOffset": 4, "symbolType": "square", "symbolSize": 20, "symbolStrokeWidth": 0, "symbolOpacity": 1, "rowPadding": 2, "encode": {"labels": {"update": {"fill": {"signal": "indexof(['3% - 5%', '5% - 10%', '10% - 20%', 'more than 20%'], datum.value) >= 0 ? '#333' : '#c8c8c8'"}}}}}}
}
}
],
"config": {"view": {"stroke": null}, "font": "Lato"}
}
